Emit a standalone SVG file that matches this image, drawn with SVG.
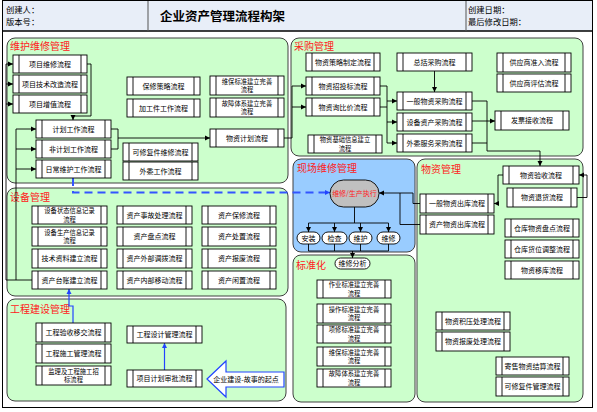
<svg xmlns="http://www.w3.org/2000/svg" width="597" height="412" viewBox="0 0 597 412">
<style>
.p{fill:#ccffcc;stroke:#404040;stroke-width:1}
.pb{fill:#99ccff;stroke:#404040;stroke-width:1}
.bx rect{fill:#fff;stroke:#000;stroke-width:0.9}
.bx path{fill:none;stroke:#000;stroke-width:0.9}
.t{font-family:"Noto Sans CJK SC","Noto Sans CJK JP",sans-serif;font-size:7px;text-anchor:middle;fill:#000}
.t2{font-family:"Noto Sans CJK SC","Noto Sans CJK JP",sans-serif;font-size:6.3px;text-anchor:middle;fill:#000}
.lbl{font-family:"Noto Sans CJK SC",sans-serif;font-size:10px;fill:#ff2020}
.hd{font-family:"Noto Sans CJK SC",sans-serif;font-size:8.3px;fill:#000}
.c path{fill:none;stroke:#000;stroke-width:0.9}
.c .bl{stroke:#2244ff;stroke-width:1.2}
.c .dash{stroke:#3355ff;stroke-width:2;stroke-dasharray:8 5}
.pill{fill:#fff;stroke:#000;stroke-width:0.9}
</style>
<defs>
<marker id="a" markerUnits="userSpaceOnUse" markerWidth="6" markerHeight="6" refX="5" refY="3" orient="auto"><path d="M0,0.5L5,3L0,5.5z" fill="#000"/></marker>
<marker id="ab" markerUnits="userSpaceOnUse" markerWidth="6" markerHeight="6" refX="5" refY="3" orient="auto"><path d="M0,0.5L5,3L0,5.5z" fill="#2244ff"/></marker>
</defs>
<rect x="2.5" y="0.5" width="590" height="407" fill="#fff" stroke="#000"/>
<g id="header">
<rect x="3" y="1" width="589" height="30" fill="#e8eef8"/>
<path d="M3 31H592" stroke="#000" stroke-width="1.5"/>
<path d="M148 1V31M466 1V31" stroke="#555" stroke-width="1"/>
<text class="hd" x="6" y="12.5">创建人：</text>
<text class="hd" x="6" y="24.5">版本号：</text>
<text x="160" y="21" font-family="Noto Sans CJK SC,sans-serif" font-size="12.5" font-weight="bold">企业资产管理流程构架</text>
<text class="hd" x="468" y="12.5">创建日期：</text>
<text class="hd" x="468" y="24.5">最后修改日期：</text>
</g>
<g id="panels">
<rect class="p" x="7" y="38" width="281" height="145" rx="8"/>
<rect class="p" x="291" y="38" width="292" height="118" rx="8"/>
<rect class="p" x="7" y="188" width="281" height="108" rx="8"/>
<rect class="pb" x="293" y="159" width="122" height="93" rx="8"/>
<rect class="p" x="293" y="255" width="122" height="147" rx="8"/>
<rect class="p" x="417" y="159" width="166" height="243" rx="8"/>
<rect class="p" x="7" y="299" width="279" height="102" rx="8"/>
<text class="lbl" x="10" y="50">维护维修管理</text>
<text class="lbl" x="294" y="50">采购管理</text>
<text class="lbl" x="10" y="201">设备管理</text>
<text class="lbl" x="297" y="172">现场维修管理</text>
<text class="lbl" x="296" y="269">标准化</text>
<text class="lbl" x="421" y="173">物资管理</text>
<text class="lbl" x="10" y="313">工程建设管理</text>
</g>
<g id="connectors" class="c">
<path d="M6 64V280H32"/>
<path d="M6 64H13" marker-end="url(#a)"/>
<path d="M6 84H13" marker-end="url(#a)"/>
<path d="M6 104H13" marker-end="url(#a)"/>
<path d="M16 129V280"/>
<path d="M16 129H36" marker-end="url(#a)"/>
<path d="M16 149H36" marker-end="url(#a)"/>
<path d="M16 169H36" marker-end="url(#a)"/>
<path d="M87 64H91V116H73V120" marker-end="url(#a)"/>
<path d="M111 129H118V149H111"/>
<path d="M118 138H210" marker-end="url(#a)"/>
<path d="M284 138H292V86"/>
<path d="M292 86H306" marker-end="url(#a)"/>
<path d="M292 107H306" marker-end="url(#a)"/>
<path d="M380 86H387V143"/>
<path d="M380 107H387"/>
<path d="M387 101H397" marker-end="url(#a)"/>
<path d="M387 122H397" marker-end="url(#a)"/>
<path d="M387 143H397" marker-end="url(#a)"/>
<path d="M434.5 71V92" marker-end="url(#a)"/>
<path d="M472 101H487V151H540V166" marker-end="url(#a)"/>
<path d="M472 143H487"/>
<path d="M472 121H495" marker-end="url(#a)"/>
<path d="M503 175H498V203.5H494" marker-end="url(#a)"/>
<path d="M577 197.5H587V175H579" marker-end="url(#a)"/>
<path d="M420 203.5H413V193H379" marker-end="url(#a)"/>
<path d="M420 224.5H400V193"/>
<path class="dash" d="M73 178V192.5H326"/>
<path class="bl" d="M326 192.5H330" marker-end="url(#ab)"/>
<path d="M354.5 207V223"/>
<path d="M308.5 223H388.5"/>
<path d="M308.5 223V232" marker-end="url(#a)"/>
<path d="M334.5 223V232" marker-end="url(#a)"/>
<path d="M360.5 223V232" marker-end="url(#a)"/>
<path d="M388.5 223V232" marker-end="url(#a)"/>
<path d="M308.5 244V251H388.5V244M334.5 244V251M360.5 244V251"/>
<path d="M352.5 251V258" marker-end="url(#a)"/>
<path class="bl" d="M73 323V306H69V289" marker-end="url(#ab)"/>
<path class="bl" d="M164.5 370V343" marker-end="url(#ab)"/>
</g>
<g id="n1" class="bx"><rect x="13" y="55" width="74" height="18"/><path d="M19 55v18M81 55v18"/><text class="t" x="50" y="66.5">项目维修流程</text></g>
<g id="n2" class="bx"><rect x="13" y="75" width="74" height="18"/><path d="M19 75v18M81 75v18"/><text class="t" x="50" y="86.5">项目技术改造流程</text></g>
<g id="n3" class="bx"><rect x="13" y="95" width="74" height="18"/><path d="M19 95v18M81 95v18"/><text class="t" x="50" y="106.5">项目增值流程</text></g>
<g id="n4" class="bx"><rect x="36" y="120" width="75" height="18"/><path d="M42 120v18M105 120v18"/><text class="t" x="73.5" y="131.5">计划工作流程</text></g>
<g id="n5" class="bx"><rect x="36" y="140" width="75" height="18"/><path d="M42 140v18M105 140v18"/><text class="t" x="73.5" y="151.5">非计划工作流程</text></g>
<g id="n6" class="bx"><rect x="36" y="160" width="75" height="18"/><path d="M42 160v18M105 160v18"/><text class="t" x="73.5" y="171.5">日常维护工作流程</text></g>
<g id="n7" class="bx"><rect x="127" y="77" width="73" height="18"/><path d="M133 77v18M194 77v18"/><text class="t" x="163.5" y="88.5">保修策略流程</text></g>
<g id="n8" class="bx"><rect x="127" y="99" width="73" height="18"/><path d="M133 99v18M194 99v18"/><text class="t" x="163.5" y="110.5">加工件工作流程</text></g>
<g id="n9" class="bx"><rect x="123" y="143" width="75" height="18"/><path d="M129 143v18M192 143v18"/><text class="t" x="160.5" y="154.5">可修复件维修流程</text></g>
<g id="n10" class="bx"><rect x="123" y="162" width="75" height="18"/><path d="M129 162v18M192 162v18"/><text class="t" x="160.5" y="173.5">外委工作流程</text></g>
<g id="n11" class="bx"><rect x="210" y="76" width="74" height="19"/><path d="M216 76v19M278 76v19"/><text class="t2" x="247" y="83.5">维保标准建立完善</text><text class="t2" x="247" y="92">流程</text></g>
<g id="n12" class="bx"><rect x="210" y="98" width="74" height="19"/><path d="M216 98v19M278 98v19"/><text class="t2" x="247" y="105.5">故障体系建立完善</text><text class="t2" x="247" y="114">流程</text></g>
<g id="n13" class="bx"><rect x="210" y="129" width="74" height="18"/><path d="M216 129v18M278 129v18"/><text class="t" x="247" y="140.5">物资计划流程</text></g>
<g id="n14" class="bx"><rect x="306" y="53" width="74" height="18"/><path d="M312 53v18M374 53v18"/><text class="t" x="343" y="64.5">物资策略制定流程</text></g>
<g id="n15" class="bx"><rect x="306" y="77" width="74" height="18"/><path d="M312 77v18M374 77v18"/><text class="t" x="343" y="88.5">物资招投标流程</text></g>
<g id="n16" class="bx"><rect x="306" y="98" width="74" height="18"/><path d="M312 98v18M374 98v18"/><text class="t" x="343" y="109.5">物资询比价流程</text></g>
<g id="n17" class="bx"><rect x="308" y="135" width="74" height="18"/><path d="M314 135v18M376 135v18"/><text class="t2" x="345" y="142">物资基础信息建立</text><text class="t2" x="345" y="150.5">流程</text></g>
<g id="n18" class="bx"><rect x="397" y="53" width="75" height="18"/><path d="M403 53v18M466 53v18"/><text class="t" x="434.5" y="64.5">总括采购流程</text></g>
<g id="n19" class="bx"><rect x="397" y="92" width="75" height="18"/><path d="M403 92v18M466 92v18"/><text class="t" x="434.5" y="103.5">一般物资采购流程</text></g>
<g id="n20" class="bx"><rect x="397" y="113" width="75" height="18"/><path d="M403 113v18M466 113v18"/><text class="t" x="434.5" y="124.5">设备资产采购流程</text></g>
<g id="n21" class="bx"><rect x="397" y="134" width="75" height="18"/><path d="M403 134v18M466 134v18"/><text class="t" x="434.5" y="145.5">外委服务采购流程</text></g>
<g id="n22" class="bx"><rect x="497" y="53" width="74" height="19"/><path d="M503 53v19M565 53v19"/><text class="t" x="534" y="65">供应商准入流程</text></g>
<g id="n23" class="bx"><rect x="497" y="74" width="74" height="18"/><path d="M503 74v18M565 74v18"/><text class="t" x="534" y="85.5">供应商评估流程</text></g>
<g id="n24" class="bx"><rect x="495" y="111" width="74" height="19"/><path d="M501 111v19M563 111v19"/><text class="t" x="532" y="123">发票接收流程</text></g>
<g id="n25" class="bx"><rect x="32" y="206" width="75" height="18"/><path d="M38 206v18M101 206v18"/><text class="t2" x="69.5" y="213">设备状态信息记录</text><text class="t2" x="69.5" y="221.5">流程</text></g>
<g id="n26" class="bx"><rect x="32" y="227" width="75" height="19"/><path d="M38 227v19M101 227v19"/><text class="t2" x="69.5" y="234.5">设备生产信息记录</text><text class="t2" x="69.5" y="243">流程</text></g>
<g id="n27" class="bx"><rect x="32" y="249" width="75" height="19"/><path d="M38 249v19M101 249v19"/><text class="t" x="69.5" y="261">技术资料建立流程</text></g>
<g id="n28" class="bx"><rect x="32" y="271" width="75" height="18"/><path d="M38 271v18M101 271v18"/><text class="t" x="69.5" y="282.5">资产台账建立流程</text></g>
<g id="n29" class="bx"><rect x="117" y="206" width="75" height="18"/><path d="M123 206v18M186 206v18"/><text class="t" x="154.5" y="217.5">资产事故处理流程</text></g>
<g id="n30" class="bx"><rect x="117" y="227" width="75" height="19"/><path d="M123 227v19M186 227v19"/><text class="t" x="154.5" y="239">资产盘点流程</text></g>
<g id="n31" class="bx"><rect x="117" y="249" width="75" height="19"/><path d="M123 249v19M186 249v19"/><text class="t" x="154.5" y="261">资产外部调拨流程</text></g>
<g id="n32" class="bx"><rect x="117" y="271" width="75" height="18"/><path d="M123 271v18M186 271v18"/><text class="t" x="154.5" y="282.5">资产内部移动流程</text></g>
<g id="n33" class="bx"><rect x="202" y="206" width="74" height="18"/><path d="M208 206v18M270 206v18"/><text class="t" x="239" y="217.5">资产保修流程</text></g>
<g id="n34" class="bx"><rect x="202" y="227" width="74" height="19"/><path d="M208 227v19M270 227v19"/><text class="t" x="239" y="239">资产处置流程</text></g>
<g id="n35" class="bx"><rect x="202" y="249" width="74" height="19"/><path d="M208 249v19M270 249v19"/><text class="t" x="239" y="261">资产报废流程</text></g>
<g id="n36" class="bx"><rect x="202" y="271" width="74" height="18"/><path d="M208 271v18M270 271v18"/><text class="t" x="239" y="282.5">资产闲置流程</text></g>
<g id="n37"><rect x="330" y="180" width="49" height="27" rx="13.5" fill="#c0c0c0" stroke="#000" stroke-width="0.9"/><text class="t" x="354.5" y="196" style="fill:#ff2020">维修/生产执行</text></g>
<g id="n38"><rect class="pill" x="297" y="232" width="23" height="12" rx="6"/><text class="t" x="308.5" y="240.5">安装</text></g>
<g id="n39"><rect class="pill" x="322" y="232" width="25" height="12" rx="6"/><text class="t" x="334.5" y="240.5">检查</text></g>
<g id="n40"><rect class="pill" x="349" y="232" width="23" height="12" rx="6"/><text class="t" x="360.5" y="240.5">维护</text></g>
<g id="n41"><rect class="pill" x="377" y="232" width="23" height="12" rx="6"/><text class="t" x="388.5" y="240.5">维修</text></g>
<g id="n42"><rect class="pill" x="335" y="258" width="35" height="11" rx="5.5"/><text class="t" x="352.5" y="266">维修分析</text></g>
<g id="n43" class="bx"><rect x="317" y="280" width="74" height="18"/><path d="M323 280v18M385 280v18"/><text class="t2" x="354" y="287">作业标准建立完善</text><text class="t2" x="354" y="295.5">流程</text></g>
<g id="n44" class="bx"><rect x="317" y="304" width="74" height="19"/><path d="M323 304v19M385 304v19"/><text class="t2" x="354" y="311.5">操作标准建立完善</text><text class="t2" x="354" y="320">流程</text></g>
<g id="n45" class="bx"><rect x="317" y="325" width="74" height="18"/><path d="M323 325v18M385 325v18"/><text class="t2" x="354" y="332">项修标准建立完善</text><text class="t2" x="354" y="340.5">流程</text></g>
<g id="n46" class="bx"><rect x="317" y="347" width="74" height="19"/><path d="M323 347v19M385 347v19"/><text class="t2" x="354" y="354.5">维保标准建立完善</text><text class="t2" x="354" y="363">流程</text></g>
<g id="n47" class="bx"><rect x="317" y="369" width="74" height="18"/><path d="M323 369v18M385 369v18"/><text class="t2" x="354" y="376">故障体系建立完善</text><text class="t2" x="354" y="384.5">流程</text></g>
<g id="n48" class="bx"><rect x="503" y="166" width="76" height="18"/><path d="M509 166v18M573 166v18"/><text class="t" x="541" y="177.5">物资验收流程</text></g>
<g id="n49" class="bx"><rect x="507" y="188" width="70" height="19"/><path d="M513 188v19M571 188v19"/><text class="t" x="542" y="200">物资退货流程</text></g>
<g id="n50" class="bx"><rect x="420" y="194" width="74" height="19"/><path d="M426 194v19M488 194v19"/><text class="t" x="457" y="206">一般物资出库流程</text></g>
<g id="n51" class="bx"><rect x="420" y="215" width="74" height="19"/><path d="M426 215v19M488 215v19"/><text class="t" x="457" y="227">资产物资出库流程</text></g>
<g id="n52" class="bx"><rect x="505" y="219" width="74" height="18"/><path d="M511 219v18M573 219v18"/><text class="t" x="542" y="230.5">仓库物资盘点流程</text></g>
<g id="n53" class="bx"><rect x="505" y="240" width="74" height="18"/><path d="M511 240v18M573 240v18"/><text class="t" x="542" y="251.5">仓库货位调整流程</text></g>
<g id="n54" class="bx"><rect x="505" y="261" width="74" height="18"/><path d="M511 261v18M573 261v18"/><text class="t" x="542" y="272.5">物资移库流程</text></g>
<g id="n55" class="bx"><rect x="436" y="312" width="74" height="18"/><path d="M442 312v18M504 312v18"/><text class="t" x="473" y="323.5">物资积压处理流程</text></g>
<g id="n56" class="bx"><rect x="436" y="332" width="74" height="19"/><path d="M442 332v19M504 332v19"/><text class="t" x="473" y="344">物资报废处理流程</text></g>
<g id="n57" class="bx"><rect x="496" y="357" width="73" height="18"/><path d="M502 357v18M563 357v18"/><text class="t" x="532.5" y="368.5">寄售物资结算流程</text></g>
<g id="n58" class="bx"><rect x="496" y="377" width="73" height="19"/><path d="M502 377v19M563 377v19"/><text class="t" x="532.5" y="389">可修复件管理流程</text></g>
<g id="n59" class="bx"><rect x="36" y="323" width="75" height="19"/><path d="M42 323v19M105 323v19"/><text class="t" x="73.5" y="335">工程验收移交流程</text></g>
<g id="n60" class="bx"><rect x="36" y="344" width="75" height="19"/><path d="M42 344v19M105 344v19"/><text class="t" x="73.5" y="356">工程施工管理流程</text></g>
<g id="n61" class="bx"><rect x="36" y="366" width="75" height="19"/><path d="M42 366v19M105 366v19"/><text class="t2" x="73.5" y="373.5">监理及工程施工招</text><text class="t2" x="73.5" y="382">标流程</text></g>
<g id="n62" class="bx"><rect x="127" y="326" width="75" height="17"/><path d="M133 326v17M196 326v17"/><text class="t" x="164.5" y="337">工程设计管理流程</text></g>
<g id="n63" class="bx"><rect x="127" y="370" width="75" height="17"/><path d="M133 370v17M196 370v17"/><text class="t" x="164.5" y="381">项目计划审批流程</text></g>
<g id="n64"><polygon points="207,379 226,361 226,372 284,372 284,387 226,387 226,397" fill="#fff" stroke="#2244ff" stroke-width="1.2"/><text class="t" x="246" y="382">企业建设-故事的起点</text></g>
</svg>
